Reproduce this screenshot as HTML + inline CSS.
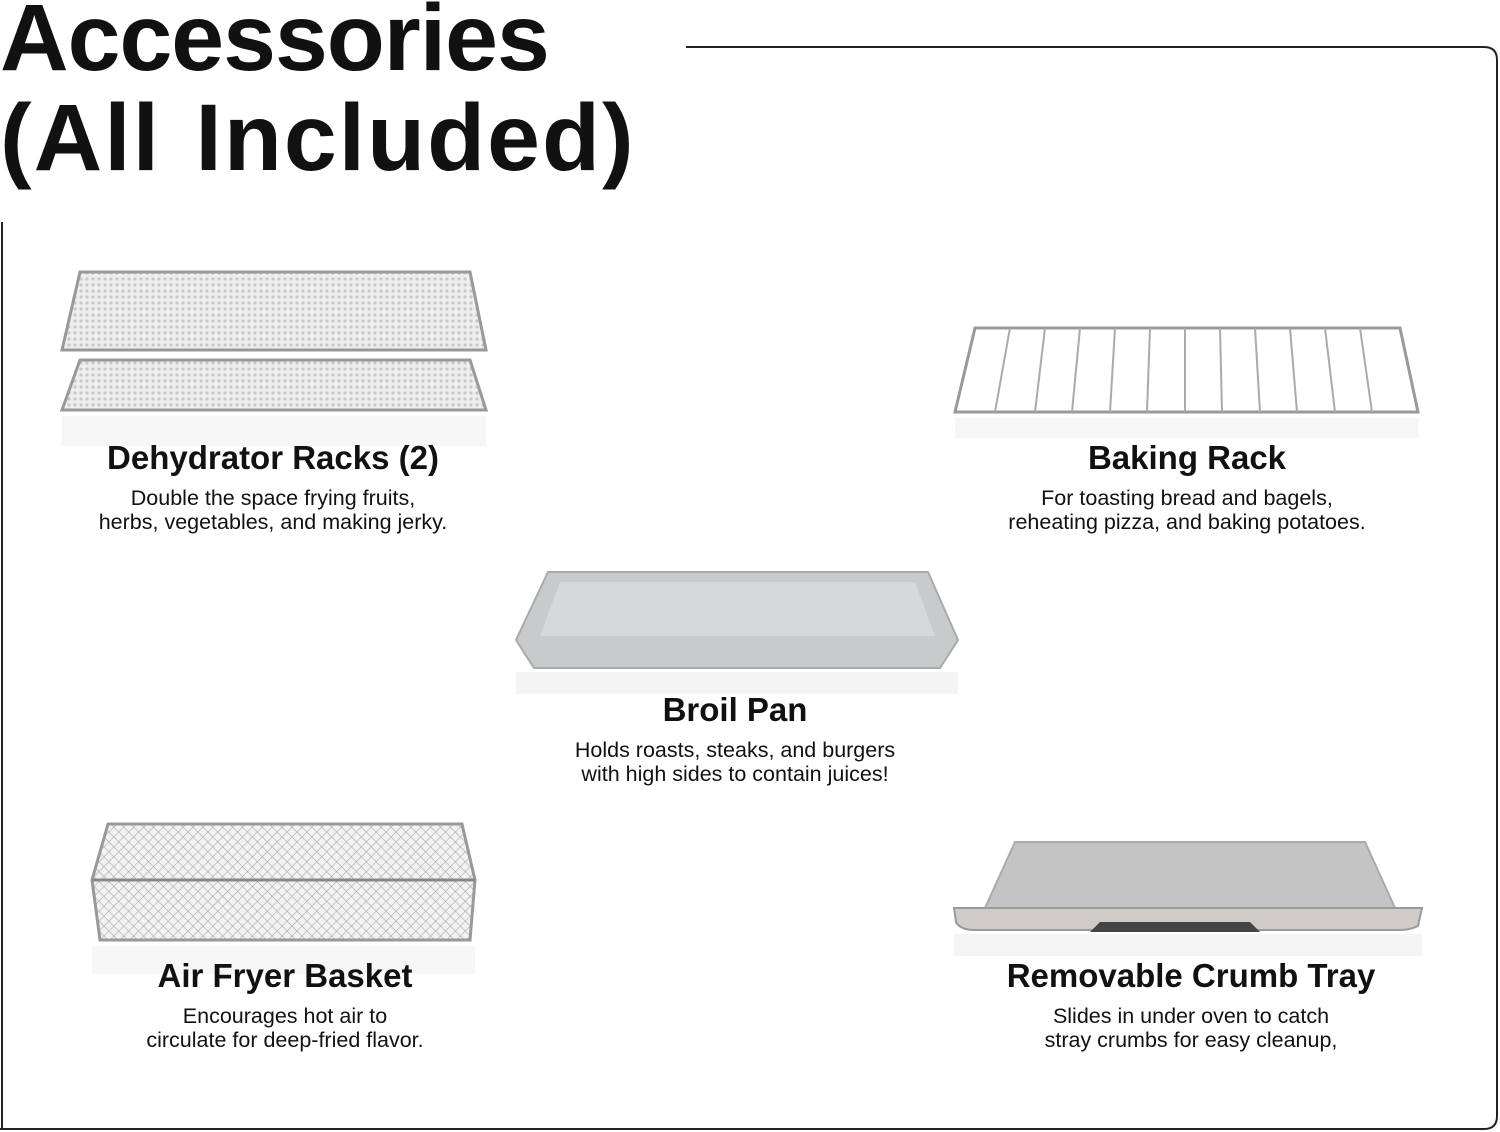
<!DOCTYPE html>
<html><head><meta charset="utf-8"><style>
html,body{margin:0;padding:0;background:#fff;}
body{width:1500px;height:1132px;position:relative;overflow:hidden;font-family:"Liberation Sans",sans-serif;color:#111;}
.t{position:absolute;left:0;font-size:95px;font-weight:bold;line-height:1;white-space:nowrap;}
.h{position:absolute;font-size:33px;font-weight:bold;text-align:center;white-space:nowrap;transform:translateX(-50%);}
.c{position:absolute;font-size:21.5px;text-align:center;white-space:nowrap;transform:translateX(-50%);line-height:24px;}
svg{position:absolute;left:0;top:0;}
</style></head><body>
<svg width="1500" height="1132">
<defs>
<pattern id="mesh" width="6" height="6" patternUnits="userSpaceOnUse"><rect width="6" height="6" fill="#eee"/><circle cx="3" cy="3" r="1.6" fill="#c8c8c8"/></pattern>
<pattern id="mesh2" width="7" height="7" patternUnits="userSpaceOnUse" patternTransform="rotate(45)"><rect width="7" height="7" fill="#f2f2f2"/><path d="M0 0H7M0 0V7" stroke="#aaa" stroke-width="1.2"/></pattern>
</defs>
<path d="M686 47 H1484 Q1497 47 1497 60 V1116 Q1497 1129 1484 1129 H0" fill="none" stroke="#222" stroke-width="2"/>
<path d="M2 222 V1129" stroke="#222" stroke-width="2"/>
<path d="M80 360 L470 360 L486 410 L62 410 Z" fill="url(#mesh)" stroke="#999" stroke-width="3"/>
<path d="M80 272 L470 272 L486 350 L62 350 Z" fill="url(#mesh)" stroke="#999" stroke-width="3"/>
<rect x="62" y="416" width="424" height="30" fill="#f6f6f6"/>
<path d="M975 328 L1400 328 L1418 412 L955 412 Z" fill="none" stroke="#999" stroke-width="3"/>
<g stroke="#aaa" stroke-width="2">
<path d="M1010 328 L995 412M1045 328 L1035 412M1080 328 L1072 412M1115 328 L1110 412M1150 328 L1147 412M1185 328 L1185 412M1220 328 L1222 412M1255 328 L1260 412M1290 328 L1297 412M1325 328 L1335 412M1360 328 L1372 412"/>
</g>
<rect x="955" y="418" width="463" height="20" fill="#f6f6f6"/>
<path d="M548 572 L928 572 L958 640 L940 668 L534 668 L516 640 Z" fill="#c9cacc" stroke="#a9aaac" stroke-width="2"/>
<path d="M560 582 L915 582 L935 636 L540 636 Z" fill="#d7d8da"/>
<rect x="516" y="672" width="442" height="22" fill="#f4f4f4"/>
<path d="M108 824 L462 824 L475 880 L470 940 L100 940 L92 880 Z" fill="url(#mesh2)" stroke="#999" stroke-width="3"/>
<path d="M92 880 L475 880" stroke="#888" stroke-width="3"/>
<rect x="92" y="946" width="383" height="28" fill="#f6f6f6"/>
<path d="M1015 842 L1365 842 L1395 908 L985 908 Z" fill="#c4c4c4" stroke="#aaa" stroke-width="2"/>
<path d="M954 908 L1422 908 L1418 926 Q1410 930 1400 930 L975 930 Q960 930 956 922 Z" fill="#cfccc8" stroke="#999" stroke-width="2"/>
<path d="M1090 932 L1100 922 L1250 922 L1260 932 Z" fill="#444"/>
<rect x="954" y="934" width="468" height="22" fill="#f5f5f5"/>
</svg>
<div class="t" style="top:-9px;letter-spacing:-1px;">Accessories</div>
<div class="t" style="top:91px;letter-spacing:2px;word-spacing:6px;">(All Included)</div>

<div class="h" style="left:273px;top:439px;">Dehydrator Racks (2)</div>
<div class="c" style="left:273px;top:486px;">Double the space frying fruits,<br>herbs, vegetables, and making jerky.</div>

<div class="h" style="left:1187px;top:439px;">Baking Rack</div>
<div class="c" style="left:1187px;top:486px;">For toasting bread and bagels,<br>reheating pizza, and baking potatoes.</div>

<div class="h" style="left:735px;top:691px;">Broil Pan</div>
<div class="c" style="left:735px;top:738px;">Holds roasts, steaks, and burgers<br>with high sides to contain juices!</div>

<div class="h" style="left:285px;top:957px;">Air Fryer Basket</div>
<div class="c" style="left:285px;top:1004px;">Encourages hot air to<br>circulate for deep-fried flavor.</div>

<div class="h" style="left:1191px;top:957px;">Removable Crumb Tray</div>
<div class="c" style="left:1191px;top:1004px;">Slides in under oven to catch<br>stray crumbs for easy cleanup,</div>
</body></html>
